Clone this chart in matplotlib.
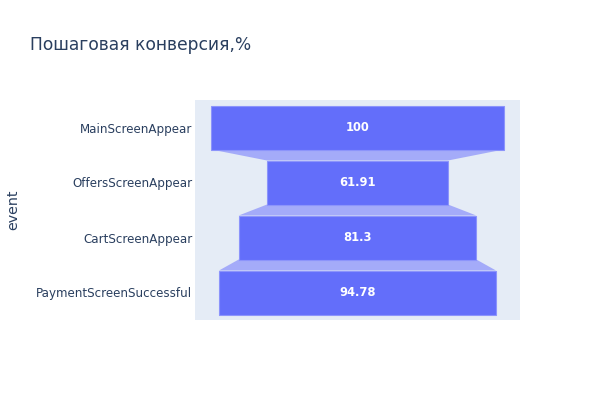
import matplotlib.pyplot as plt
import numpy as np
from matplotlib.patches import Polygon

# funnel data
events = ['MainScreenAppear', 'OffersScreenAppear', 'CartScreenAppear', 'PaymentScreenSuccessful']
conversion = [100, 61.91, 81.3, 94.78]
labels = ['100', '61.91', '81.3', '94.78']

plt.rcParams['font.family'] = ['DejaVu Sans']

bar_color = '#636efa'
conn_color = '#a4abf9'
text_color = '#2a3f5f'

fig = plt.figure(figsize=(6, 4), dpi=100)
ax = fig.add_axes([195 / 600, 1 - 320 / 400, 325 / 600, 220 / 400])
ax.set_facecolor('#e5ecf6')

ypos = np.arange(len(events))
h = 0.8
lefts = [-v / 2 for v in conversion]
ax.barh(ypos, conversion, left=lefts, height=h, color=bar_color,
        edgecolor='#8c94fb', linewidth=0.8, zorder=3)

# connectors between steps
for i in range(len(conversion) - 1):
    a, b = conversion[i] / 2, conversion[i + 1] / 2
    y0, y1 = ypos[i] + h / 2, ypos[i + 1] - h / 2
    poly = Polygon([(-a, y0), (a, y0), (b, y1), (-b, y1)], closed=True,
                   facecolor=conn_color, edgecolor='none', zorder=2)
    ax.add_patch(poly)

for y, lab in zip(ypos, labels):
    ax.text(0, y, lab, color='white', ha='center', va='center',
            fontsize=8.3, fontweight='bold', zorder=4)

ax.set_xlim(-55.6, 55.6)
ax.set_ylim(len(events) - 0.5, -0.5)
ax.set_yticks(ypos)
ax.set_yticklabels(events, color=text_color, fontsize=8.6)
ax.set_xticks([])
ax.tick_params(axis='y', length=0, pad=2)
for s in ax.spines.values():
    s.set_visible(False)

fig.text(6 / 600, 1 - 210 / 400, 'event', rotation=90, ha='left', va='center',
         color=text_color, fontsize=10.3)
fig.text(30 / 600, 1 - 45 / 400, 'Пошаговая конверсия,%', ha='left', va='center',
         color=text_color, fontsize=12.3)

fig.savefig('out.png', dpi=100, facecolor='white')
